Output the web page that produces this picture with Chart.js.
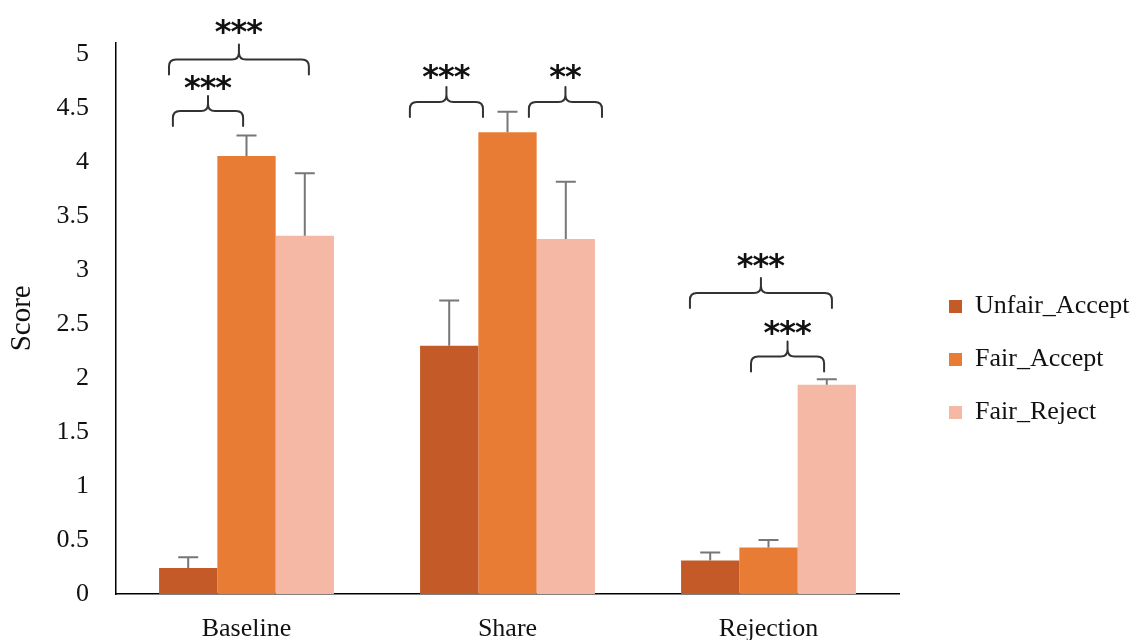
<!DOCTYPE html>
<html><head><meta charset="utf-8">
<script src="https://cdn.jsdelivr.net/npm/chart.js@4/dist/chart.umd.min.js"></script>
<style>html,body{margin:0;padding:0;background:#fff}#wrap{width:1136px;height:640px}</style>
</head><body><div id="wrap"><canvas id="c" width="1136" height="640"></canvas></div>
<script>
// ---- data ----
const categories = ['Baseline', 'Share', 'Rejection'];
const seriesNames = ['Unfair_Accept', 'Fair_Accept', 'Fair_Reject'];
const unfairAccept = [0.24, 2.30, 0.31];
const fairAccept = [4.06, 4.28, 0.43];
const fairReject = [3.32, 3.29, 1.94];
const unfairAcceptErr = [0.10, 0.42, 0.075];
const fairAcceptErr = [0.19, 0.19, 0.07];
const fairRejectErr = [0.58, 0.53, 0.05];
const yTickValues = [0, 0.5, 1, 1.5, 2, 2.5, 3, 3.5, 4, 4.5, 5];
const yTickLabels = ['0', '0.5', '1', '1.5', '2', '2.5', '3', '3.5', '4', '4.5', '5'];
// significance brackets: x in category units, y in score units
const bracketX1 = [-0.282, -0.297, 0.626, 1.082, 1.699, 1.933];
const bracketX2 = [-0.013, 0.239, 0.906, 1.362, 2.243, 2.213];
const bracketY = [4.477, 4.954, 4.560, 4.560, 2.789, 2.202];
const bracketTextY = [4.74, 5.257, 4.844, 4.844, 3.092, 2.468];
const bracketLabels = ['***', '***', '***', '**', '***', '***'];

const colors = ['#C45A27', '#E97C34', '#F4B8A5'];
const serif = "'Liberation Serif', 'Times New Roman', serif";

const errorBars = {
  id: 'errorBars',
  afterDatasetsDraw(chart) {
    const ctx = chart.ctx;
    const errs = [unfairAcceptErr, fairAcceptErr, fairRejectErr];
    const ys = chart.scales.y;
    ctx.save();
    ctx.strokeStyle = '#777';
    ctx.lineWidth = 2;
    chart.data.datasets.forEach((ds, di) => {
      const meta = chart.getDatasetMeta(di);
      meta.data.forEach((bar, i) => {
        const v = ds.data[i], e = errs[di][i];
        const yTop = ys.getPixelForValue(v + e);
        const yBar = ys.getPixelForValue(v);
        ctx.beginPath();
        ctx.moveTo(bar.x, yBar);
        ctx.lineTo(bar.x, yTop);
        ctx.moveTo(bar.x - 10, yTop);
        ctx.lineTo(bar.x + 10, yTop);
        ctx.stroke();
      });
    });
    ctx.restore();
  }
};

const bracketsPlugin = {
  id: 'brackets',
  afterDraw(chart) {
    const ctx = chart.ctx;
    const xs = chart.scales.x, ys = chart.scales.y;
    ctx.save();
    ctx.strokeStyle = '#333';
    ctx.lineWidth = 2;
    ctx.lineCap = 'round';
    for (let k = 0; k < bracketLabels.length; k++) {
      const x1 = xs.getPixelForValue(bracketX1[k]);
      const x2 = xs.getPixelForValue(bracketX2[k]);
      const y = ys.getPixelForValue(bracketY[k]);
      const xm = (x1 + x2) / 2;
      const d = 15, t = 15, r = 7;
      ctx.beginPath();
      ctx.moveTo(x1, y + d);
      ctx.lineTo(x1, y + r);
      ctx.quadraticCurveTo(x1, y, x1 + r, y);
      ctx.lineTo(xm - r, y);
      ctx.quadraticCurveTo(xm, y, xm, y - r);
      ctx.lineTo(xm, y - t);
      ctx.moveTo(xm, y - r);
      ctx.quadraticCurveTo(xm, y, xm + r, y);
      ctx.lineTo(x2 - r, y);
      ctx.quadraticCurveTo(x2, y, x2, y + r);
      ctx.lineTo(x2, y + d);
      ctx.stroke();
      // label
      ctx.fillStyle = '#111';
      ctx.font = "bold 32px 'DejaVu Sans'";
      ctx.letterSpacing = '-1px';
      ctx.textAlign = 'center';
      ctx.textBaseline = 'alphabetic';
      const m = ctx.measureText(bracketLabels[k]);
      const ty = ys.getPixelForValue(bracketTextY[k]);
      const base = ty + (m.actualBoundingBoxAscent - m.actualBoundingBoxDescent) / 2;
      ctx.fillText(bracketLabels[k], xm - 0.5, base);
    }
    ctx.restore();
  }
};

const legendPlace = {
  id: 'legendPlace',
  beforeLayout(chart) {
    const lg = chart.legend;
    if (lg && !lg._patched) {
      const orig = lg.fit.bind(lg);
      lg.fit = function () { orig(); this.width = 237; };
      lg._patched = true;
    }
  },
  afterLayout(chart) {
    const lg = chart.legend;
    if (lg) { lg.left += 23; lg.right += 23; lg.top += 21; lg.bottom += 21; }
  }
};

new Chart(document.getElementById('c'), {
  type: 'bar',
  data: {
    labels: categories,
    datasets: [
      { label: seriesNames[0], data: unfairAccept, backgroundColor: colors[0] },
      { label: seriesNames[1], data: fairAccept, backgroundColor: colors[1] },
      { label: seriesNames[2], data: fairReject, backgroundColor: colors[2] }
    ]
  },
  options: {
    responsive: false,
    animation: false,
    devicePixelRatio: 1,
    layout: { padding: { top: 37, left: 0, right: 0, bottom: 0 } },
    datasets: { bar: { categoryPercentage: 0.67, barPercentage: 1.0, borderWidth: 0 } },
    plugins: {
      tooltip: { enabled: false },
      legend: {
        position: 'right',
        align: 'center',
        labels: {
          boxWidth: 13, boxHeight: 13, padding: 27,
          color: '#111',
          font: { family: serif, size: 26 }
        }
      }
    },
    scales: {
      x: {
        grid: { display: false, drawTicks: false },
        border: { display: true, color: '#000', width: 1.5 },
        ticks: { color: '#111', font: { family: serif, size: 26 }, padding: 20 },
        afterFit(s) { s.height = 46; }
      },
      y: {
        min: 0, max: 5.11,
        grid: { display: false, drawTicks: false },
        border: { display: true, color: '#000', width: 1.5 },
        afterBuildTicks(s) { s.ticks = yTickValues.map(v => ({ value: v })); },
        ticks: {
          color: '#111', font: { family: serif, size: 26 }, padding: 27,
          callback(v) { const i = yTickValues.indexOf(v); return i >= 0 ? yTickLabels[i] : ''; }
        },
        title: { display: true, text: 'Score', color: '#111', font: { family: serif, size: 29, lineHeight: 1 }, padding: { top: 8, bottom: 0 } },
        afterFit(s) { s.width = 116; }
      }
    }
  },
  plugins: [errorBars, bracketsPlugin, legendPlace]
});
</script>
</body></html>
